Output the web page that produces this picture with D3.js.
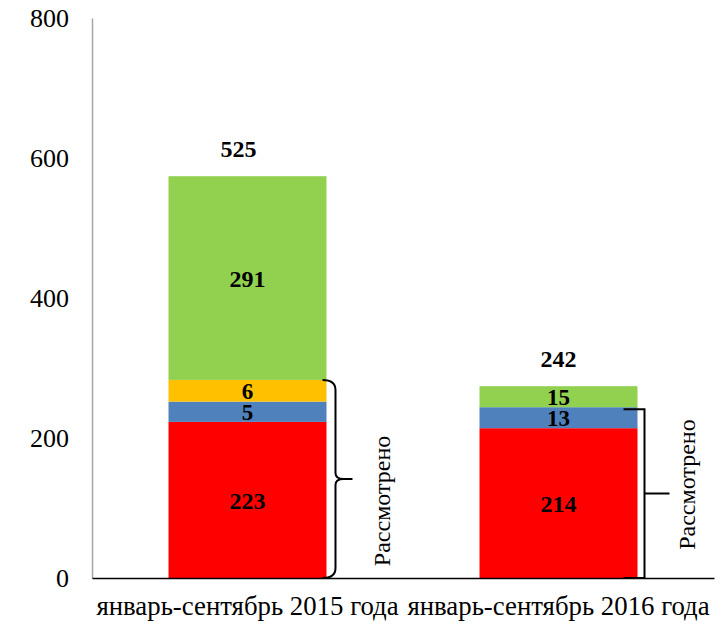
<!DOCTYPE html>
<html><head><meta charset="utf-8">
<script src="https://cdn.jsdelivr.net/npm/d3@7/dist/d3.min.js"></script>
<style>body{margin:0;background:#fff}svg{display:block}</style>
</head><body><svg id="c" width="724" height="627"></svg>
<script>
const categories = ["январь-сентябрь 2015 года", "январь-сентябрь 2016 года"];
const seriesNames = ["red", "blue", "yellow", "green"];
// heights as drawn in the picture
const redHeights = [223, 214];
const blueHeights = [29, 30];
const yellowHeights = [31, 0];
const greenHeights = [291, 30];
// value labels as printed
const redLabels = ["223", "214"];
const blueLabels = ["5", "13"];
const yellowLabels = ["6", ""];
const greenLabels = ["291", "15"];
const totalLabels = ["525", "242"];
const yTicks = [0, 200, 400, 600, 800];
const bracketText = "Рассмотрено";
const colors = {red: "#FF0000", blue: "#4F81BD", yellow: "#FFC000", green: "#92D050"};

const svg = d3.select("#c");
const font = "'Liberation Serif','Times New Roman',serif";
const y = d3.scaleLinear().domain([0, 800]).range([578, 18]);
const x = d3.scaleBand().domain(categories).range([92, 714]).paddingInner(0.492).paddingOuter(0.246);

const rows = categories.map((c, i) => ({cat: c, red: redHeights[i], blue: blueHeights[i], yellow: yellowHeights[i], green: greenHeights[i]}));
const labels = {red: redLabels, blue: blueLabels, yellow: yellowLabels, green: greenLabels};
const stack = d3.stack().keys(seriesNames)(rows);

stack.forEach(s => {
  svg.append("g").selectAll("rect").data(s).join("rect")
    .attr("x", d => x(d.data.cat)).attr("width", x.bandwidth())
    .attr("y", d => y(d[1])).attr("height", d => y(d[0]) - y(d[1]))
    .attr("fill", colors[s.key]);
});
stack.forEach(s => {
  svg.append("g").selectAll("text").data(s.filter((d, i) => labels[s.key][i] !== "")).join("text")
    .attr("x", d => x(d.data.cat) + x.bandwidth() / 2)
    .attr("y", d => (y(d[0]) + y(d[1])) / 2 + 1)
    .attr("text-anchor", "middle").attr("dominant-baseline", "central")
    .attr("font-family", font).attr("font-weight", "bold")
    .attr("font-size", d => (y(d[0]) - y(d[1])) < 30 ? 23 : 24)
    .text(d => labels[s.key][categories.indexOf(d.data.cat)]);
});
// totals
svg.append("g").selectAll("text").data(rows).join("text")
  .attr("x", (d, i) => x(d.cat) + x.bandwidth() / 2 - (i === 0 ? 9 : 0))
  .attr("y", d => y(d.red + d.blue + d.yellow + d.green) - 27)
  .attr("text-anchor", "middle").attr("dominant-baseline", "central")
  .attr("font-family", font).attr("font-weight", "bold").attr("font-size", 24)
  .text((d, i) => totalLabels[i]);

// axes
const ya = svg.append("g").attr("transform", "translate(92,0)")
  .call(d3.axisLeft(y).tickValues(yTicks).tickSize(0).tickPadding(23));
ya.attr("font-family", font);
ya.select(".domain").attr("stroke", "#a6a6a6").attr("stroke-width", 1.5);
ya.selectAll("text").attr("font-family", font).attr("font-size", 26).attr("fill", "#000");
const xa = svg.append("g").attr("transform", "translate(0,578)")
  .call(d3.axisBottom(x).tickSize(0).tickPadding(18));
xa.attr("font-family", font);
xa.select(".domain").attr("stroke", "#000").attr("stroke-width", 1.5);
xa.selectAll("text").attr("font-family", font).attr("font-size", 26.8).attr("fill", "#000");

// curly brace for 2015 (red+blue+yellow)
{
  const x0 = x(categories[0]) + x.bandwidth() - 4;
  const top = y(rows[0].red + rows[0].blue + rows[0].yellow), bot = y(0);
  const mid = (top + bot) / 2, xv = x0 + 13, xt = x0 + 30;
  const p = `M${x0},${top} Q${xv},${top} ${xv},${top + 10} L${xv},${mid - 6} Q${xv},${mid} ${xv + 8},${mid} L${xt},${mid} M${xv + 8},${mid} Q${xv},${mid} ${xv},${mid + 6} L${xv},${bot - 10} Q${xv},${bot} ${x0},${bot}`;
  svg.append("path").attr("d", p).attr("fill", "none").attr("stroke", "#000").attr("stroke-width", 2);
  svg.append("text").attr("transform", `translate(${x0 + 60},${mid + 22}) rotate(-90)`)
    .attr("text-anchor", "middle").attr("dominant-baseline", "central")
    .attr("font-family", font).attr("font-size", 24).text(bracketText);
}
// square bracket for 2016 (red+blue)
{
  const x0 = x(categories[1]) + x.bandwidth() - 14;
  const top = y(rows[1].red + rows[1].blue) + 2, bot = y(0);
  const mid = (top + bot) / 2, xv = x0 + 21, xt = x0 + 46;
  const p = `M${x0},${top} L${xv},${top} L${xv},${bot} L${x0},${bot} M${xv},${mid} L${xt},${mid}`;
  svg.append("path").attr("d", p).attr("fill", "none").attr("stroke", "#000").attr("stroke-width", 2);
  svg.append("text").attr("transform", `translate(${x0 + 64},${mid - 9}) rotate(-90)`)
    .attr("text-anchor", "middle").attr("dominant-baseline", "central")
    .attr("font-family", font).attr("font-size", 24).text(bracketText);
}
</script></body></html>
